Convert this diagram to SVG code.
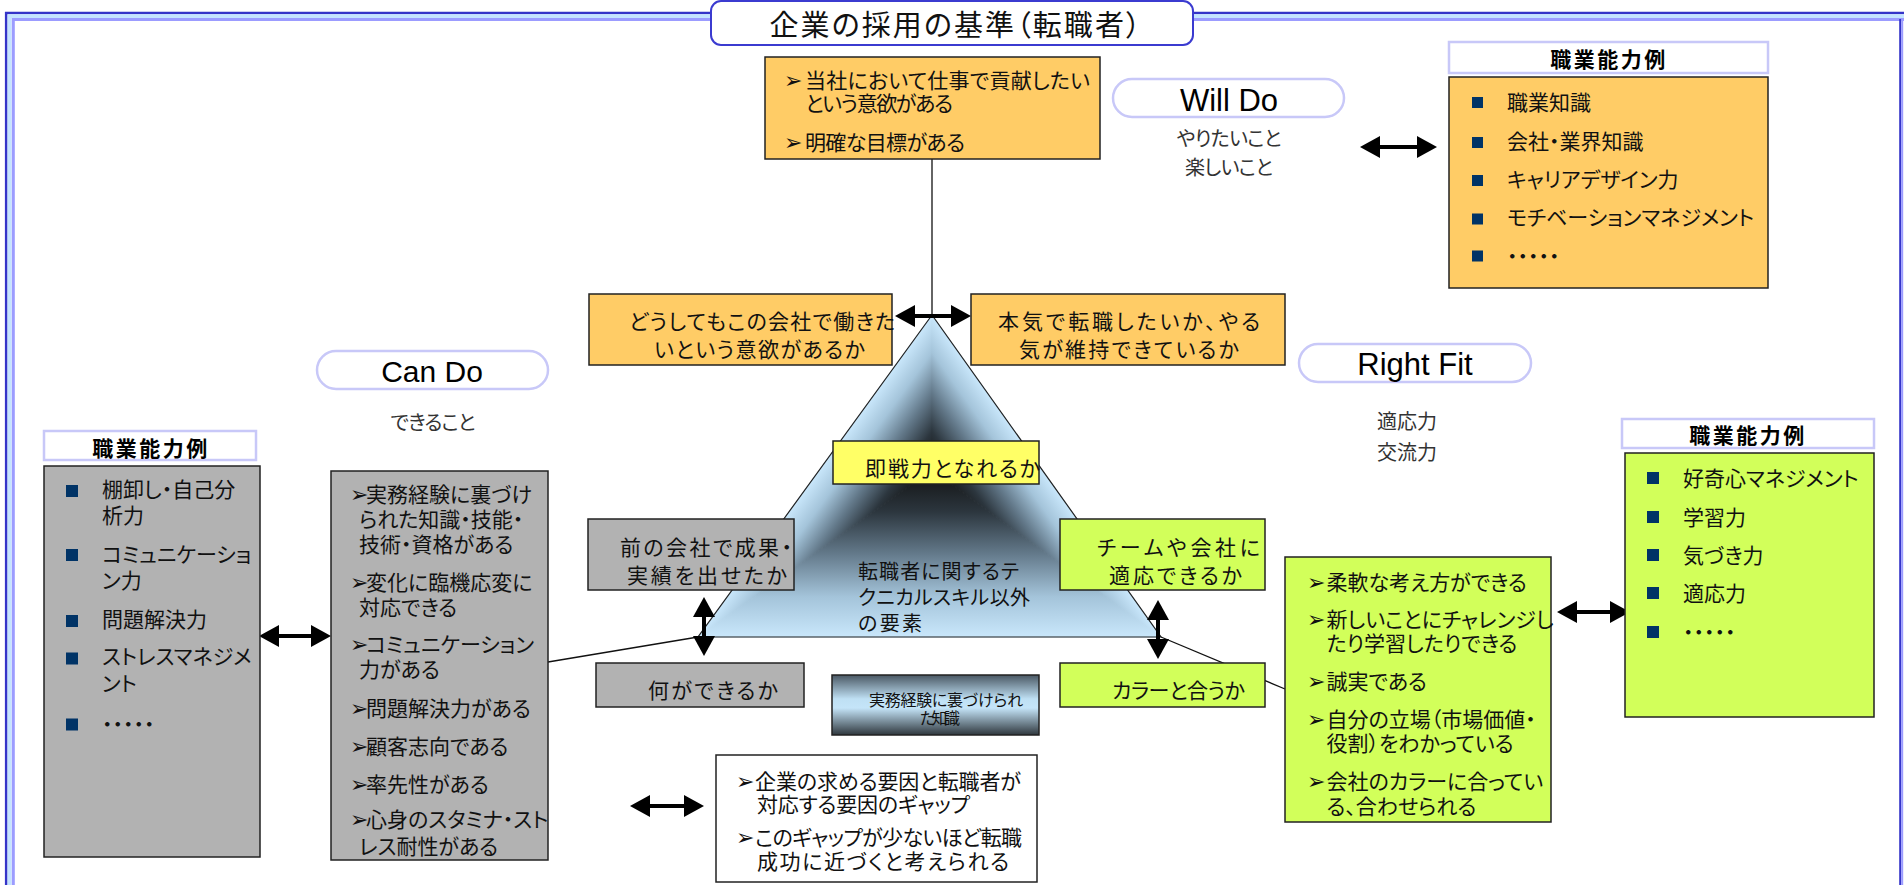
<svg xmlns="http://www.w3.org/2000/svg" width="1904" height="885" viewBox="0 0 1904 885">
<defs>
<style>
text{font-family:"Noto Sans CJK JP","DejaVu Sans",sans-serif;fill:#111;font-feature-settings:"palt" 1}
.en{font-family:"Liberation Sans","DejaVu Sans",sans-serif;fill:#000;font-feature-settings:normal}
.b{stroke:#222;stroke-width:1.5}
.or{fill:#FFCC66}
.gy{fill:#B2B2B2}
.gn{fill:#D2FF5A}
.ye{fill:#FFFF66}
.pill{fill:#fff;stroke:#C8C8F8;stroke-width:2.5}
.hd{fill:#fff;stroke:#C8C8F8;stroke-width:2.5}
.hdt{font-size:21px;font-weight:bold;letter-spacing:2.5px;text-anchor:middle;fill:#000}
.sq{fill:#003366}
.f21{font-size:21px}
.f20{font-size:20px}
.f16{font-size:16px}
.sub{font-size:20px;fill:#333;text-anchor:middle}
.ar{font-family:"DejaVu Sans",sans-serif;font-size:22px;fill:#111}
.arr{stroke:#000;stroke-width:4;fill:none}
.ln{stroke:#111;stroke-width:1.3;fill:none}
</style>
<marker id="ah" viewBox="0 0 20 22" refX="16" refY="11" markerWidth="20" markerHeight="22" markerUnits="userSpaceOnUse" orient="auto-start-reverse">
<path d="M0,0 L20,11 L0,22 Z" fill="#000"/>
</marker>
<linearGradient id="tg">
<stop offset="0" stop-color="#111111"/>
<stop offset="0.25" stop-color="#2c363e"/>
<stop offset="0.5" stop-color="#63798a"/>
<stop offset="0.76" stop-color="#a4c4da"/>
<stop offset="1" stop-color="#C9E7FB"/>
</linearGradient>
<linearGradient id="gL" href="#tg" gradientUnits="userSpaceOnUse" x1="932" y1="470" x2="858.3" y2="416.4"/>
<linearGradient id="gR" href="#tg" gradientUnits="userSpaceOnUse" x1="932" y1="470" x2="1005.3" y2="418"/>
<linearGradient id="gB" href="#tg" gradientUnits="userSpaceOnUse" x1="932" y1="470" x2="932" y2="637"/>
<linearGradient id="gk" x1="0" y1="0" x2="0" y2="1">
<stop offset="0" stop-color="#4a5864"/>
<stop offset="0.4" stop-color="#bfe0f4"/>
<stop offset="0.55" stop-color="#c4e4f8"/>
<stop offset="1" stop-color="#2f373d"/>
</linearGradient>
</defs>

<rect width="1904" height="885" fill="#fff"/>

<g id="frame">
<path d="M6.2,885 V13 H1904" stroke="#3434C8" stroke-width="2.6" fill="none"/>
<path d="M9.5,885 V16.3 H1904" stroke="#C4E4FF" stroke-width="4" fill="none"/>
<path d="M13.3,885 V19.5 H1904" stroke="#9C9CFF" stroke-width="3" fill="none"/>
<path d="M1900.2,19 V885" stroke="#3434C8" stroke-width="2" fill="none"/>
<path d="M1902.2,19 V885" stroke="#9C9CFF" stroke-width="2" fill="none"/>
</g>

<g id="title">
<rect x="711" y="1" width="482" height="44" rx="10" fill="#fff" stroke="#3b3bd0" stroke-width="2"/>
<text x="955" y="36" font-size="29" text-anchor="middle" textLength="371">企業の採用の基準（転職者）</text>
</g>

<g id="triangle">
<polygon points="932,470 932,315 698,637" fill="url(#gL)" stroke="url(#gL)" stroke-width="1"/>
<polygon points="932,470 932,315 1161,637" fill="url(#gR)" stroke="url(#gR)" stroke-width="1"/>
<polygon points="932,470 698,637 1161,637" fill="url(#gB)" stroke="url(#gB)" stroke-width="1"/>
<polygon points="932,315 698,637 1161,637" fill="none" stroke="#222" stroke-width="1.2"/>
<text class="f20" x="858" y="579" textLength="161">転職者に関するテ</text>
<text class="f20" x="858" y="605" textLength="172">クニカルスキル以外</text>
<text class="f20" x="858" y="631" textLength="64">の要素</text>
</g>

<g id="connectors">
<line class="ln" x1="932" y1="159" x2="932" y2="315"/>
<line class="ln" x1="548" y1="662" x2="698" y2="637"/>
<line class="ln" x1="1161" y1="637" x2="1285" y2="689"/>
<line class="arr" x1="1364" y1="147" x2="1433" y2="147" marker-start="url(#ah)" marker-end="url(#ah)"/>
<line class="arr" x1="899" y1="316" x2="967" y2="316" marker-start="url(#ah)" marker-end="url(#ah)"/>
<line class="arr" x1="263" y1="636" x2="327" y2="636" marker-start="url(#ah)" marker-end="url(#ah)"/>
<line class="arr" x1="1561" y1="612" x2="1626" y2="612" marker-start="url(#ah)" marker-end="url(#ah)"/>
<line class="arr" x1="704" y1="601" x2="704" y2="652" marker-start="url(#ah)" marker-end="url(#ah)"/>
<line class="arr" x1="1158" y1="604" x2="1158" y2="655" marker-start="url(#ah)" marker-end="url(#ah)"/>
<line class="arr" x1="634" y1="806" x2="700" y2="806" marker-start="url(#ah)" marker-end="url(#ah)"/>
</g>

<g id="will-box">
<rect class="or b" x="765" y="57" width="335" height="102"/>
<text class="ar" x="784" y="88">➢</text>
<text class="f21" x="805" y="88" textLength="285">当社において仕事で貢献したい</text>
<text class="f21" x="805" y="111" textLength="148">という意欲がある</text>
<text class="ar" x="784" y="149.5">➢</text>
<text class="f21" x="805" y="149.5" textLength="160">明確な目標がある</text>
</g>

<g id="will-do">
<rect class="pill" x="1113" y="79" width="231" height="38" rx="19"/>
<text class="en" x="1229" y="111" font-size="31" text-anchor="middle">Will Do</text>
<text class="sub" x="1229" y="145.5" textLength="105">やりたいこと</text>
<text class="sub" x="1229" y="175" textLength="88">楽しいこと</text>
</g>

<g id="will-examples">
<rect class="hd" x="1449" y="42" width="319" height="31"/>
<text class="hdt" x="1609" y="66.5">職業能力例</text>
<rect class="or b" x="1449" y="77" width="319" height="211"/>
<rect class="sq" x="1472" y="97" width="11" height="11"/>
<rect class="sq" x="1472" y="137" width="11" height="11"/>
<rect class="sq" x="1472" y="175" width="11" height="11"/>
<rect class="sq" x="1472" y="213.5" width="11" height="11"/>
<rect class="sq" x="1472" y="250.5" width="11" height="11"/>
<text class="f21" x="1507" y="110">職業知識</text>
<text class="f21" x="1507" y="149">会社・業界知識</text>
<text class="f21" x="1507" y="187">キャリアデザイン力</text>
<text class="f21" x="1507" y="225">モチベーションマネジメント</text>
<text class="f21" x="1507" y="263.5">・・・・・</text>
</g>

<g id="will-q1">
<rect class="or b" x="589" y="294" width="303" height="71"/>
<text class="f21" x="629" y="329" textLength="266">どうしてもこの会社で働きた</text>
<text class="f21" x="654" y="356.5" textLength="211">いという意欲があるか</text>
</g>

<g id="will-q2">
<rect class="or b" x="971" y="294" width="314" height="71"/>
<text class="f21" x="998" y="329" textLength="262">本気で転職したいか、やる</text>
<text class="f21" x="1019" y="356.5" textLength="220">気が維持できているか</text>
</g>

<g id="q-sokusen">
<rect class="ye b" x="833" y="441" width="206" height="43"/>
<text class="f21" x="865" y="476" textLength="175">即戦力となれるか</text>
</g>

<g id="can-q1">
<rect class="gy b" x="588" y="519" width="206" height="71"/>
<text class="f21" x="620" y="555" textLength="172">前の会社で成果・</text>
<text class="f21" x="627" y="582.5" textLength="160">実績を出せたか</text>
</g>

<g id="fit-q1">
<rect class="gn b" x="1060" y="519" width="205" height="71"/>
<text class="f21" x="1097" y="555" textLength="163">チームや会社に</text>
<text class="f21" x="1109" y="582.5" textLength="133">適応できるか</text>
</g>

<g id="can-q2">
<rect class="gy b" x="596" y="663" width="208" height="44"/>
<text class="f21" x="648" y="698" textLength="130">何ができるか</text>
</g>

<g id="tacit">
<rect x="832" y="675" width="207" height="60" fill="url(#gk)" stroke="#222" stroke-width="1.5"/>
<text class="f16" x="869" y="705.5" textLength="154">実務経験に裏づけられ</text>
<text class="f16" x="920" y="724" textLength="40">た知識</text>
</g>

<g id="fit-q2">
<rect class="gn b" x="1060" y="663" width="205" height="44"/>
<text class="f21" x="1112" y="698" textLength="133">カラーと合うか</text>
</g>

<g id="can-do">
<rect class="pill" x="317" y="351" width="231" height="38" rx="19"/>
<text class="en" x="432" y="382" font-size="30" text-anchor="middle">Can Do</text>
<text class="sub" x="433" y="430" textLength="85">できること</text>
</g>

<g id="can-examples">
<rect class="hd" x="44" y="431" width="212" height="29"/>
<text class="hdt" x="151" y="455.5">職業能力例</text>
<rect class="gy b" x="44" y="466" width="216" height="391"/>
<rect class="sq" x="66" y="485" width="12" height="12"/>
<rect class="sq" x="66" y="549" width="12" height="12"/>
<rect class="sq" x="66" y="615" width="12" height="12"/>
<rect class="sq" x="66" y="652.5" width="12" height="12"/>
<rect class="sq" x="66" y="718.5" width="12" height="12"/>
<text class="f21" x="102" y="497">棚卸し・自己分</text>
<text class="f21" x="102" y="523">析力</text>
<text class="f21" x="102" y="561.5">コミュニケーショ</text>
<text class="f21" x="102" y="587.5">ン力</text>
<text class="f21" x="102" y="626.5">問題解決力</text>
<text class="f21" x="102" y="664">ストレスマネジメ</text>
<text class="f21" x="102" y="690.5">ント</text>
<text class="f21" x="102" y="732">・・・・・</text>
</g>

<g id="can-list">
<rect class="gy b" x="331" y="471" width="217" height="389"/>
<text class="ar" x="350" y="501.5">➢</text>
<text class="f21" x="366" y="501.5">実務経験に裏づけ</text>
<text class="f21" x="359" y="526.5">られた知識・技能・</text>
<text class="f21" x="359" y="551.5">技術・資格がある</text>
<text class="ar" x="350" y="589.5">➢</text>
<text class="f21" x="366" y="589.5">変化に臨機応変に</text>
<text class="f21" x="359" y="614.5">対応できる</text>
<text class="ar" x="350" y="651.5">➢</text>
<text class="f21" x="366" y="651.5">コミュニケーション</text>
<text class="f21" x="359" y="676.5">力がある</text>
<text class="ar" x="350" y="716">➢</text>
<text class="f21" x="366" y="716">問題解決力がある</text>
<text class="ar" x="350" y="753.5">➢</text>
<text class="f21" x="366" y="753.5">顧客志向である</text>
<text class="ar" x="350" y="792">➢</text>
<text class="f21" x="366" y="792">率先性がある</text>
<text class="ar" x="350" y="826.5">➢</text>
<text class="f21" x="366" y="826.5">心身のスタミナ・スト</text>
<text class="f21" x="359" y="853.5">レス耐性がある</text>
</g>

<g id="right-fit">
<rect class="pill" x="1299" y="344" width="232" height="38" rx="19"/>
<text class="en" x="1415" y="375" font-size="31" text-anchor="middle">Right Fit</text>
<text class="sub" x="1407" y="428.5">適応力</text>
<text class="sub" x="1407" y="460">交流力</text>
</g>

<g id="fit-list">
<rect class="gn b" x="1285" y="557" width="266" height="265"/>
<text class="ar" x="1307" y="590">➢</text>
<text class="f21" x="1326.5" y="590">柔軟な考え方ができる</text>
<text class="ar" x="1307" y="627">➢</text>
<text class="f21" x="1326.5" y="627">新しいことにチャレンジし</text>
<text class="f21" x="1326.5" y="651">たり学習したりできる</text>
<text class="ar" x="1307" y="688.5">➢</text>
<text class="f21" x="1326.5" y="688.5">誠実である</text>
<text class="ar" x="1307" y="727">➢</text>
<text class="f21" x="1326.5" y="727">自分の立場（市場価値・</text>
<text class="f21" x="1326.5" y="751">役割）をわかっている</text>
<text class="ar" x="1307" y="789">➢</text>
<text class="f21" x="1326.5" y="789">会社のカラーに合ってい</text>
<text class="f21" x="1326.5" y="813.5">る、合わせられる</text>
</g>

<g id="fit-examples">
<rect class="hd" x="1622" y="419" width="252" height="29"/>
<text class="hdt" x="1748" y="442.5">職業能力例</text>
<rect class="gn b" x="1625" y="453" width="249" height="264"/>
<rect class="sq" x="1647" y="472" width="12" height="12"/>
<rect class="sq" x="1647" y="511" width="12" height="12"/>
<rect class="sq" x="1647" y="549" width="12" height="12"/>
<rect class="sq" x="1647" y="587" width="12" height="12"/>
<rect class="sq" x="1647" y="626" width="12" height="12"/>
<text class="f21" x="1683" y="485.5">好奇心マネジメント</text>
<text class="f21" x="1683" y="524.5">学習力</text>
<text class="f21" x="1683" y="562.5">気づき力</text>
<text class="f21" x="1683" y="600.5">適応力</text>
<text class="f21" x="1683" y="639.5">・・・・・</text>
</g>

<g id="gap">
<rect fill="#fff" class="b" x="716" y="755" width="321" height="127"/>
<text class="ar" x="736" y="789">➢</text>
<text class="f21" x="755" y="789" textLength="266">企業の求める要因と転職者が</text>
<text class="f21" x="757" y="812" textLength="213">対応する要因のギャップ</text>
<text class="ar" x="736" y="845">➢</text>
<text class="f21" x="755" y="845" textLength="267">このギャップが少ないほど転職</text>
<text class="f21" x="757" y="869" textLength="252">成功に近づくと考えられる</text>
</g>
</svg>
